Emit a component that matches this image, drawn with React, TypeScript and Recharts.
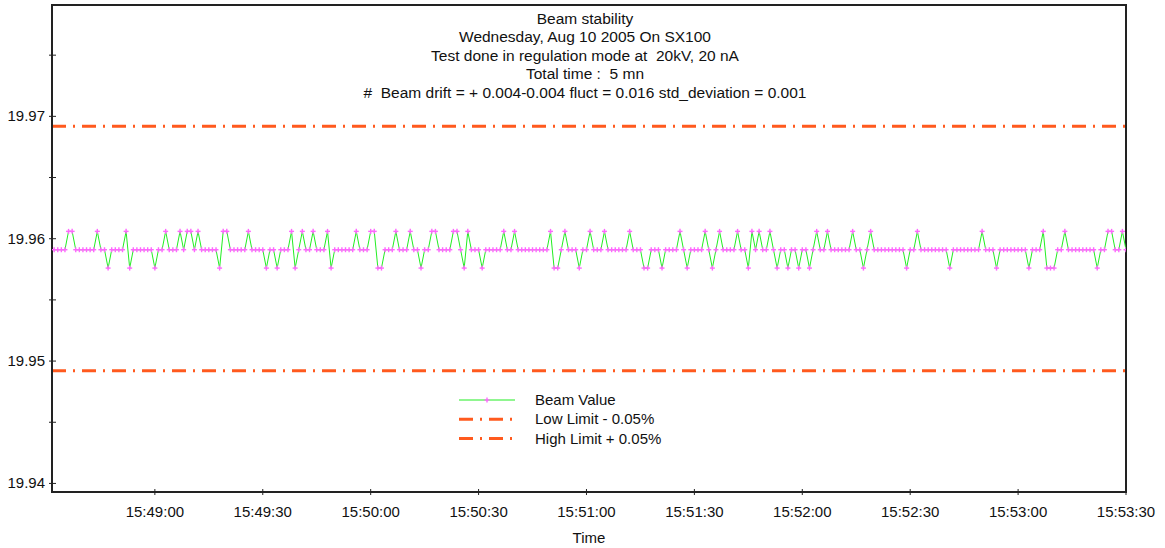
import React from "react";
import { LineChart, Line, XAxis, YAxis, ReferenceLine, ReferenceArea } from "recharts";

// Quantised beam levels (nA)
const H = 19.9606;
const M = 19.9591;
const L = 19.9576;

// One sample per second, 15:48:32 -> 15:53:30
const beamValues = [
  M, M, M, M, H, H, M, M, M, M, M, M, H, M, M, L, M, M, M, M,
  H, L, M, M, M, M, M, M, L, M, M, H, M, M, M, H, M, H, H, M,
  H, M, M, M, M, M, L, H, H, M, M, M, M, M, H, M, M, M, M, L,
  M, M, L, M, M, M, H, L, M, H, M, M, H, M, M, M, H, L, M, M,
  M, M, M, M, H, M, M, M, H, H, L, L, M, M, M, H, M, M, M, H,
  M, M, L, M, M, H, H, M, M, M, M, H, H, M, L, H, M, M, M, L,
  M, M, M, M, M, H, M, M, H, M, M, M, M, M, M, M, M, M, H, L,
  L, M, H, M, M, M, L, M, M, H, M, M, M, H, M, M, M, M, M, M,
  H, M, M, M, L, L, M, M, M, L, M, M, M, M, H, M, L, M, M, M,
  M, H, M, L, M, H, M, M, M, M, H, M, M, L, H, M, H, M, M, H,
  M, L, M, M, L, M, M, L, M, M, L, M, H, M, M, H, M, M, M, M,
  M, M, H, M, M, L, M, H, M, M, M, M, M, M, M, M, M, L, M, M,
  H, M, M, M, M, M, M, M, M, L, M, M, M, M, M, M, M, M, H, M,
  M, M, L, M, M, M, M, M, M, M, M, L, M, M, M, H, L, L, L, M,
  M, H, M, M, M, M, M, M, M, M, L, M, M, H, H, M, M, H, M,
];

const FIRST_SAMPLE_SEC = 32; // seconds after 15:48:00
const SAMPLE_STEP_SEC = 1;
const X_DOMAIN: [number, number] = [31.4, 330];
const Y_DOMAIN: [number, number] = [19.9393, 19.9791];

const LOW_LIMIT = 19.9492;
const HIGH_LIMIT = 19.9692;

const xTicks = [60, 90, 120, 150, 180, 210, 240, 270, 300, 330];
const yTicks = [19.94, 19.945, 19.95, 19.955, 19.96, 19.965, 19.97, 19.975];

const titleLines = [
  "Beam stability",
  "Wednesday, Aug 10 2005 On SX100",
  "Test done in regulation mode at  20kV, 20 nA",
  "Total time :  5 mn",
  "#  Beam drift = + 0.004-0.004 fluct = 0.016 std_deviation = 0.001",
];
const legendLabels = ["Beam Value", "Low Limit - 0.05%", "High Limit + 0.05%"];
const xAxisTitle = "Time";

const data = beamValues.map((v, i) => ({
  t: FIRST_SAMPLE_SEC + i * SAMPLE_STEP_SEC,
  beam: v,
}));

const FONT = "'Liberation Sans', Arial, sans-serif";
const FS = 15;
const FS_TITLE = 15.5;
const GREEN = "#22EE22";
const PINK = "#FF66FF";
const ORANGE = "#FF5A1E";
const AXIS = "#222";
const DASH = "14 7 2 7";

const fmtTime = (t: number) => {
  const total = 48 * 60 + t;
  const mm = Math.floor(total / 60);
  const ss = Math.round(total % 60);
  return `15:${String(mm).padStart(2, "0")}:${String(ss).padStart(2, "0")}`;
};

const YTick = (props: any) => {
  const { x, y, payload } = props;
  const v = payload.value as number;
  const major = Math.abs(v * 100 - Math.round(v * 100)) < 1e-6;
  return (
    <g>
      <line x1={x - 3} x2={x + 4} y1={y} y2={y} stroke={AXIS} strokeWidth={1} />
      {major && (
        <text x={x - 7} y={y} dy={5} textAnchor="end" fontFamily={FONT} fontSize={FS} fill="#111">
          {v.toFixed(2)}
        </text>
      )}
    </g>
  );
};

const XTick = (props: any) => {
  const { x, y, payload } = props;
  return (
    <g>
      <line x1={x} x2={x} y1={y - 3} y2={y + 3} stroke={AXIS} strokeWidth={1} />
      <text x={x} y={y + 25} textAnchor="middle" fontFamily={FONT} fontSize={FS} fill="#111">
        {fmtTime(payload.value)}
      </text>
    </g>
  );
};

const PlusDot = (props: any) => {
  const { cx, cy, index } = props;
  if (cx == null || cy == null) return <g key={`d${index}`} />;
  return (
    <g key={`d${index}`}>
      <line x1={cx - 2.5} x2={cx + 2.5} y1={cy} y2={cy} stroke={PINK} strokeWidth={1.4} />
      <line x1={cx} x2={cx} y1={cy - 2.5} y2={cy + 2.5} stroke={PINK} strokeWidth={1.4} />
    </g>
  );
};

export default function App() {
  return (
    <div style={{ position: "fixed", left: 0, top: 0, width: 1165, height: 548, background: "#fff" }}>
      <LineChart
        width={1165}
        height={548}
        data={data}
        margin={{ top: 5, right: 39, bottom: 0, left: 0 }}
      >
        <XAxis
          dataKey="t"
          type="number"
          domain={X_DOMAIN}
          ticks={xTicks}
          interval={0}
          allowDataOverflow
          height={56}
          tickSize={0}
          tickMargin={0}
          tickLine={false}
          axisLine={{ stroke: AXIS, strokeWidth: 2 }}
          tick={<XTick />}
        />
        <YAxis
          type="number"
          domain={Y_DOMAIN}
          ticks={yTicks}
          interval={0}
          allowDataOverflow
          width={52}
          tickSize={0}
          tickMargin={0}
          tickLine={false}
          axisLine={{ stroke: AXIS, strokeWidth: 2 }}
          tick={<YTick />}
        />
        <ReferenceArea
          x1={X_DOMAIN[0]}
          x2={X_DOMAIN[1]}
          y1={Y_DOMAIN[0]}
          y2={Y_DOMAIN[1]}
          fill="none"
          fillOpacity={0}
          stroke={AXIS}
          strokeWidth={2}
          ifOverflow="visible"
        />
        <ReferenceLine y={HIGH_LIMIT} stroke={ORANGE} strokeWidth={3} strokeDasharray={DASH} />
        <ReferenceLine y={LOW_LIMIT} stroke={ORANGE} strokeWidth={3} strokeDasharray={DASH} />
        <Line
          type="linear"
          dataKey="beam"
          stroke={GREEN}
          strokeWidth={1}
          dot={PlusDot}
          activeDot={false}
          isAnimationActive={false}
        />
      </LineChart>
      <svg
        width={1165}
        height={548}
        style={{ position: "absolute", left: 0, top: 0, pointerEvents: "none" }}
      >
        {titleLines.map((s, i) => (
          <text
            key={i}
            x={585}
            y={23.5 + i * 18.5}
            textAnchor="middle"
            fontFamily={FONT}
            fontSize={FS_TITLE}
            fill="#111"
            style={{ whiteSpace: "pre" }}
          >
            {s}
          </text>
        ))}
        <text x={589} y={543} textAnchor="middle" fontFamily={FONT} fontSize={FS} fill="#111">
          {xAxisTitle}
        </text>
        {legendLabels.map((s, i) => {
          const y = 400 + i * 19.3;
          return (
            <g key={s}>
              {i === 0 ? (
                <g>
                  <line x1={459} x2={515} y1={y} y2={y} stroke={GREEN} strokeWidth={1.2} />
                  <line x1={484.5} x2={489.5} y1={y} y2={y} stroke={PINK} strokeWidth={1.4} />
                  <line x1={487} x2={487} y1={y - 2.5} y2={y + 2.5} stroke={PINK} strokeWidth={1.4} />
                </g>
              ) : (
                <line x1={459} x2={515} y1={y} y2={y} stroke={ORANGE} strokeWidth={3} strokeDasharray={DASH} />
              )}
              <text x={535} y={y + 5} fontFamily={FONT} fontSize={FS} fill="#111">
                {s}
              </text>
            </g>
          );
        })}
      </svg>
    </div>
  );
}
